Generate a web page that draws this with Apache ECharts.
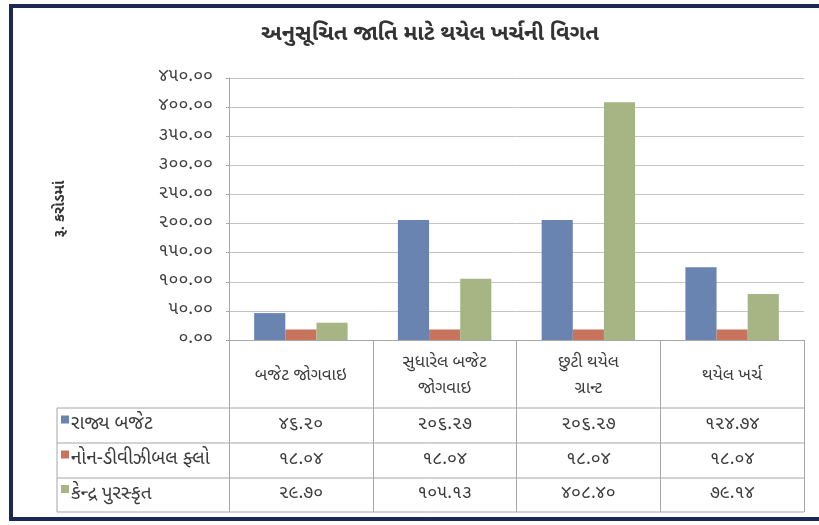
<!DOCTYPE html>
<html>
<head>
<meta charset="utf-8">
<script src="https://cdn.jsdelivr.net/npm/echarts@6/dist/echarts.min.js"></script>
<style>
  html, body { margin: 0; padding: 0; background: #fff; }
  #chart { width: 819px; height: 525px; }
</style>
</head>
<body>
<div id="chart"></div>
<script>
const titleText = 'અનુસૂચિત જાતિ માટે થયેલ ખર્ચની વિગત'
const yName = 'રૂ. કરોડમાં'
const categories = ['બજેટ જોગવાઇ', 'સુધારેલ બજેટ\nજોગવાઇ', 'છુટી થયેલ\nગ્રાન્ટ', 'થયેલ ખર્ચ']
const seriesNames = ['રાજ્ય બજેટ', 'નોન-ડીવીઝીબલ ફ્લો', 'કેન્દ્ર પુરસ્કૃત']
const rajyaBudget = [46.20, 206.27, 206.27, 124.74]
const nonDivisible = [18.04, 18.04, 18.04, 18.04]
const kendraPuraskrut = [29.70, 105.13, 408.40, 79.14]
const yMin = 0
const yMax = 450
const yStep = 50

const colors = ['#6984b1', '#c8735b', '#a7b584']
const font = "'Noto Sans Gujarati', 'Lohit Gujarati', sans-serif"

// latin digits -> gujarati digits
function gu(str) {
  return String(str).replace(/[0-9]/g, d => String.fromCharCode(0x0AE6 + Number(d)))
}

const gridLeft = 229
const gridRight = 15
const gridTop = 78
const gridBottom = 185
const rowLines = [408, 443, 478, 512]
const tableLeft = 57

const chart = echarts.init(document.getElementById('chart'))

const allData = [rajyaBudget, nonDivisible, kendraPuraskrut]

const option = {
  backgroundColor: '#fff',
  animation: false,
  title: {
    text: titleText,
    left: 425,
    top: 20,
    textAlign: 'center',
    textStyle: { fontFamily: font, fontSize: 22, fontWeight: 'bold', color: '#333' }
  },
  grid: { left: gridLeft, right: gridRight, top: gridTop, bottom: gridBottom, containLabel: false },
  xAxis: {
    type: 'category',
    data: categories,
    axisLine: { lineStyle: { color: '#a6a6a6' } },
    axisTick: { show: true, interval: 0, length: 172, lineStyle: { color: '#a6a6a6' } },
    axisLabel: {
      interval: 0,
      margin: 37,
      fontFamily: font,
      fontSize: 17,
      color: '#3c3c3c',
      lineHeight: 26,
      verticalAlign: 'middle'
    }
  },
  yAxis: {
    type: 'value',
    min: yMin,
    max: yMax,
    interval: yStep,
    name: yName,
    nameLocation: 'middle',
    nameGap: 160,
    nameRotate: 90,
    nameTextStyle: { fontFamily: font, fontSize: 15, fontWeight: 'bold', color: '#333' },
    axisLine: { show: true, lineStyle: { color: '#a6a6a6' } },
    axisTick: { show: true, length: 3, lineStyle: { color: '#a6a6a6' } },
    splitLine: { lineStyle: { color: '#c4c4c4' } },
    axisLabel: {
      margin: 16,
      fontFamily: font,
      fontSize: 18,
      color: '#404040',
      formatter: v => gu(v.toFixed(2))
    }
  },
  series: seriesNames.map((name, i) => ({
    name: name,
    type: 'bar',
    data: allData[i],
    barGap: '0%',
    barCategoryGap: '35%',
    itemStyle: { color: colors[i] }
  }))
}

chart.setOption(option)

// data table under the axis
const graphics = []
rowLines.forEach(y => {
  graphics.push({
    type: 'line',
    shape: { x1: tableLeft, y1: y, x2: 819 - gridRight, y2: y },
    style: { stroke: '#a6a6a6', lineWidth: 1 }
  })
})
graphics.push({
  type: 'line',
  shape: { x1: tableLeft, y1: rowLines[0], x2: tableLeft, y2: rowLines[rowLines.length - 1] },
  style: { stroke: '#a6a6a6', lineWidth: 1 }
})
seriesNames.forEach((name, i) => {
  const yc = (rowLines[i] + rowLines[i + 1]) / 2
  graphics.push({
    type: 'rect',
    shape: { x: tableLeft + 4, y: yc - 10, width: 8, height: 8 },
    style: { fill: colors[i] }
  })
  graphics.push({
    type: 'text',
    x: tableLeft + 14,
    y: yc,
    style: { text: name, font: '19px ' + font, fill: '#3c3c3c', verticalAlign: 'middle' }
  })
  categories.forEach((c, j) => {
    const xc = chart.convertToPixel({ xAxisIndex: 0 }, c)
    graphics.push({
      type: 'text',
      x: xc,
      y: yc,
      style: {
        text: gu(allData[i][j].toFixed(2)),
        font: '18px ' + font,
        fill: '#3c3c3c',
        align: 'center',
        verticalAlign: 'middle'
      }
    })
  })
})
// outer frame
graphics.push({
  type: 'rect',
  shape: { x: 11, y: 6, width: 830, height: 513 },
  style: { fill: 'none', stroke: '#1d2857', lineWidth: 4 }
})

chart.setOption({ graphic: graphics })
</script>
</body>
</html>
